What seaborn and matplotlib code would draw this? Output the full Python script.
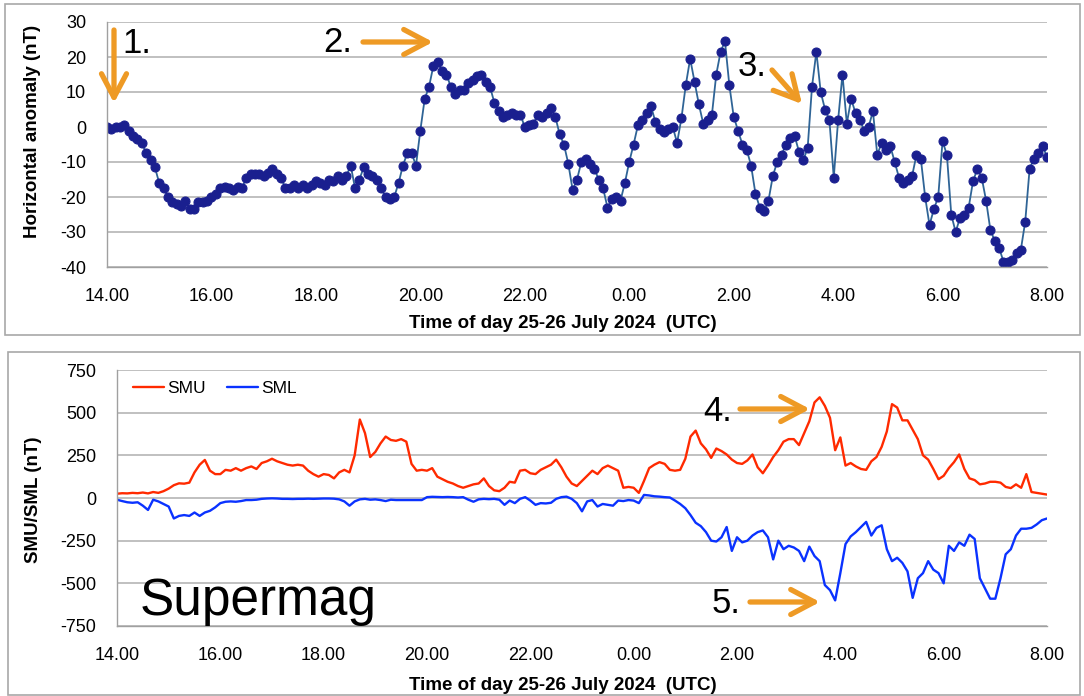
import numpy as np
import pandas as pd
import seaborn as sns
import matplotlib.pyplot as plt
from matplotlib.ticker import MultipleLocator
from matplotlib.patches import Rectangle, FancyArrowPatch

# x axis: hours after 14:00 UT on 25 July 2024
tick_hours = list(range(0, 19, 2))
tick_labels = ["14.00", "16.00", "18.00", "20.00", "22.00", "0.00", "2.00", "4.00", "6.00", "8.00"]

# horizontal anomaly (nT), one value every 5 minutes, one row per hour
anomaly = [
    0, -0.5, 0, 0, 0.5, -1, -2.5, -3.5, -4.5, -7.5, -9.5, -11.5,
    -16, -17.5, -20, -21.5, -22, -22.5, -21, -23.5, -23.5, -21.5, -21.5, -21,
    -20, -19, -17.5, -17, -17.5, -18, -17, -17.5, -14.5, -13.5, -13.5, -13.5,
    -14, -13, -12, -13.5, -14.5, -17.5, -17.5, -16.5, -17.5, -16.5, -17.5, -16.5,
    -15.5, -16, -16.5, -15, -15.5, -14, -15, -14, -11, -17.5, -15, -11.5,
    -13.5, -14, -15, -17.5, -20, -20.5, -20, -16, -11, -7.5, -7.5, -11,
    -1, 8, 11.5, 17.5, 18.5, 16, 15, 11.5, 9.5, 10.5, 10.5, 12.5,
    13.5, 14.5, 15, 13, 11.5, 7, 4.5, 3, 3.5, 4, 3.5, 3.5,
    0, 0.5, 1, 3.5, 3, 4, 5.5, 3, -2, -5, -10.5, -18,
    -15, -10, -9, -10.5, -12, -15, -17.5, -23, -20.5, -20, -21, -16,
    -10, -5, 0.5, 2, 4, 6, 1.5, -0.5, -1.5, -0.5, 0, -4.5,
    2.5, 12, 19.5, 13, 6.5, 1, 2, 3.5, 15, 21.5, 24.5, 12,
    3, -1, -5, -6.5, -11, -19, -23, -24, -21, -14, -10, -8,
    -5, -3, -2.5, -7, -9.5, -6, 11.5, 21.5, 10, 5, 2, -14.5,
    2, 15, 1, 8, 4, 2, -1, 0, 4.5, -8, -4.5, -6.5,
    -5.5, -10, -14.5, -16, -15, -14, -8, -9, -20, -28, -23.5, -20,
    -4, -8, -25, -30, -26, -25, -23, -15.5, -12, -14.5, -21, -29.5,
    -32.5, -34.5, -38.5, -38.5, -38, -36, -35, -27, -12, -9, -7.5, -5.5,
    -8.5,
]
anomaly_hours = np.arange(len(anomaly)) / 12

# SuperMAG SMU / SML (nT), one value every 6 minutes, one row per hour
smu = [
    25, 28, 27, 30, 28, 32, 27, 35, 30, 40,
    55, 75, 86, 84, 90, 150, 195, 223, 160, 140,
    140, 165, 160, 175, 160, 175, 185, 170, 205, 215,
    230, 215, 205, 195, 190, 195, 190, 160, 140, 125,
    140, 135, 115, 150, 165, 150, 250, 460, 380, 240,
    270, 320, 360, 340, 335, 345, 330, 200, 160, 165,
    160, 175, 125, 110, 95, 85, 70, 60, 70, 80,
    85, 115, 70, 45, 40, 60, 95, 90, 160, 165,
    145, 140, 165, 180, 195, 225, 180, 125, 85, 70,
    100, 130, 160, 140, 175, 190, 175, 160, 60, 65,
    60, 30, 100, 175, 195, 210, 200, 165, 160, 165,
    230, 360, 395, 320, 285, 235, 290, 275, 255, 225,
    205, 200, 220, 255, 180, 145, 190, 240, 280, 330,
    345, 345, 310, 380, 450, 560, 590, 540, 470, 280,
    355, 190, 205, 185, 170, 165, 215, 240, 300, 390,
    550, 530, 455, 455, 400, 345, 250, 225, 170, 110,
    130, 175, 210, 255, 170, 115, 105, 80, 85, 95,
    95, 90, 65, 58, 80, 60, 140, 35, 30, 25,
    20,
]
sml = [
    -10, -18, -25, -28, -25, -45, -70, -10, -20, -35,
    -50, -120, -105, -100, -105, -85, -105, -85, -75, -55,
    -30, -22, -20, -22, -18, -12, -12, -10, -5, -3,
    -2, -3, -5, -5, -6, -5, -5, -4, -5, -4,
    -3, -3, -4, -8, -20, -45, -20, -8, -5, -10,
    -8, -12, -18, -10, -12, -12, -12, -12, -12, -12,
    5, 7, 6, 5, 6, 5, 3, 5, -10, -22,
    -8, -5, -7, -5, -10, -40, -15, -30, -5, 5,
    -15, -40, -30, -32, -28, -5, 5, 8, -5, -30,
    -78, -20, -12, -50, -35, -40, -45, -15, -18, -12,
    -15, -30, 18, 15, 10, 8, 5, 3, -15, -35,
    -60, -100, -145, -165, -200, -250, -255, -230, -170, -310,
    -230, -260, -250, -220, -200, -190, -230, -360, -250, -300,
    -280, -290, -310, -370, -285, -340, -370, -510, -540, -600,
    -440, -270, -225, -200, -170, -140, -220, -175, -160, -300,
    -370, -350, -380, -430, -585, -470, -440, -370, -420, -440,
    -500, -280, -310, -260, -280, -215, -240, -470, -530, -590,
    -590, -470, -330, -300, -220, -180, -180, -175, -155, -130,
    -120,
]
sm_hours = np.arange(len(smu)) / 10

sns.set_style("white")
plt.rcParams["font.family"] = ["Liberation Sans", "DejaVu Sans"]
plt.rcParams["axes.unicode_minus"] = False
plt.rcParams["text.color"] = "black"
plt.rcParams["xtick.color"] = "black"
plt.rcParams["ytick.color"] = "black"

W, H = 1084, 696
fig = plt.figure(figsize=(W / 100, H / 100), dpi=100)


def fx(x):
    return x / W


def fy(y):
    return 1 - y / H


ax1 = fig.add_axes([fx(107), fy(267), fx(940), 245 / H])
ax2 = fig.add_axes([fx(117), fy(626), fx(930), 256 / H])

# top panel
sns.lineplot(x=anomaly_hours, y=anomaly, ax=ax1, color="#2F6496", linewidth=1.3,
             marker="o", markersize=6.5, markerfacecolor="#1A1F8F", markeredgecolor="#1A1F8F")
ax1.set_ylim(-40, 30)
ax1.yaxis.set_major_locator(MultipleLocator(10))
ax1.yaxis.set_minor_locator(MultipleLocator(2))

# bottom panel
df = pd.DataFrame({"hour": sm_hours, "SMU": smu, "SML": sml})
long = df.melt(id_vars="hour", var_name="index", value_name="nT")
sns.lineplot(data=long, x="hour", y="nT", hue="index", ax=ax2,
             palette={"SMU": "#FF2A00", "SML": "#0A32FF"}, linewidth=1.7)
ax2.set_ylim(-750, 750)
ax2.yaxis.set_major_locator(MultipleLocator(250))
ax2.yaxis.set_minor_locator(MultipleLocator(50))
handles, labels = ax2.get_legend_handles_labels()
ax2.legend(handles, labels, loc="upper left", bbox_to_anchor=(0.0, 1.02), ncol=2,
           frameon=False, fontsize=12.5, handlelength=1.8, handletextpad=0.2,
           columnspacing=1.2)

for ax in (ax1, ax2):
    ax.set_xlim(0, 18)
    ax.set_xticks(tick_hours)
    ax.set_xticklabels(tick_labels)
    ax.xaxis.set_minor_locator(MultipleLocator(1))
    ax.set_xlabel("")
    ax.set_ylabel("")
    ax.yaxis.grid(True, color="#b5b5b5", linewidth=1.2)
    ax.set_axisbelow(True)
    for s in ("top", "right"):
        ax.spines[s].set_visible(False)
    for s in ("left", "bottom"):
        ax.spines[s].set_color("#a0a0a0")
        ax.spines[s].set_linewidth(1.0)
    ax.tick_params(which="both", direction="out", length=5, color="#a0a0a0", width=1)
    ax.tick_params(axis="y", which="major", labelsize=13, pad=10)
    ax.tick_params(axis="x", which="major", labelsize=13, pad=10)

lab = dict(fontsize=13.5, fontweight="bold", ha="center", va="center")
fig.text(fx(33), fy(131), "Horizontal anomaly (nT)", rotation=90, **lab)
fig.text(fx(33), fy(500), "SMU/SML (nT)", rotation=90, **lab)
fig.text(fx(563), fy(323), "Time of day 25-26 July 2024  (UTC)", **lab)
fig.text(fx(563), fy(686), "Time of day 25-26 July 2024  (UTC)", **lab)

# panel frames
fig.add_artist(Rectangle((fx(5), fy(335)), fx(1075), 331 / H, transform=fig.transFigure,
                         fill=False, edgecolor="#a8a8a8", linewidth=1.2))
fig.add_artist(Rectangle((fx(8), fy(695)), fx(1072), 343 / H, transform=fig.transFigure,
                         fill=False, edgecolor="#a8a8a8", linewidth=1.2))

# numbered annotations with orange arrows
num = dict(fontsize=25, family="Liberation Sans", ha="left", va="baseline")
for label, x, y in [("1.", 122, 53), ("2.", 323, 52), ("3.", 738, 76), ("4.", 703, 421), ("5.", 712, 613)]:
    fig.text(fx(x), fy(y), label, **num)
fig.text(fx(140), fy(615), "Supermag", fontsize=37, family="Liberation Sans", ha="left", va="baseline")

for (x0, y0), (x1, y1) in [((114, 30), (114, 103)), ((363, 42), (433, 42)),
                           ((772, 70), (802, 104)), ((740, 409), (810, 409)),
                           ((750, 602), (820, 602))]:
    fig.add_artist(FancyArrowPatch((fx(x0), fy(y0)), (fx(x1), fy(y1)), transform=fig.transFigure,
                                   arrowstyle="->, head_length=0.85, head_width=0.45",
                                   color="#EE9A25", lw=3.8, mutation_scale=20,
                                   shrinkA=0, shrinkB=0))

fig.savefig("out.png", dpi=100)
